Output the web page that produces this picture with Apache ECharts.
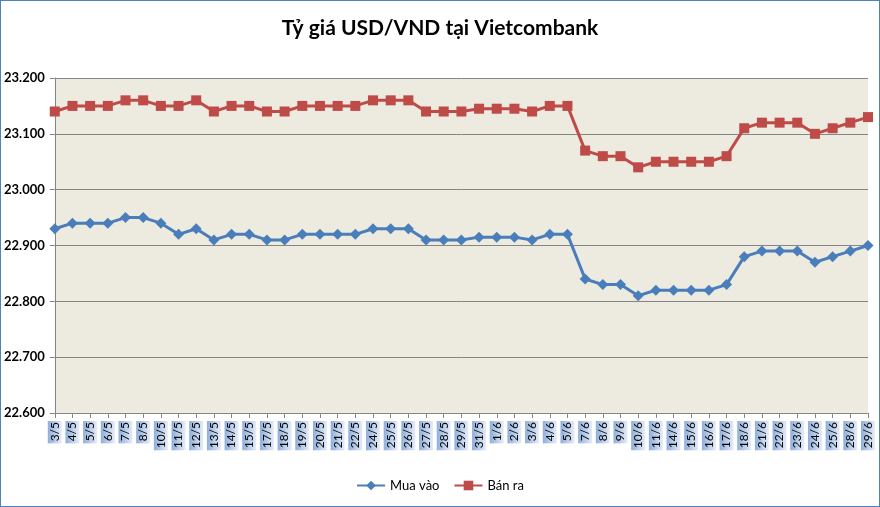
<!DOCTYPE html>
<html>
<head>
<meta charset="utf-8">
<script src="https://cdn.jsdelivr.net/npm/echarts@6/dist/echarts.min.js"></script>
<style>
html,body{margin:0;padding:0;background:#fff;}
#wrap{position:absolute;left:0;top:0;width:878px;height:505px;border:1px solid #4F81BD;}
#chart{width:878px;height:505px;}
</style>
</head>
<body>
<div id="wrap"><div id="chart"></div></div>
<script>
const categories = ["3/5","4/5","5/5","6/5","7/5","8/5","10/5","11/5","12/5","13/5","14/5","15/5","17/5","18/5","19/5","20/5","21/5","22/5","24/5","25/5","26/5","27/5","28/5","29/5","31/5","1/6","2/6","3/6","4/6","5/6","7/6","8/6","9/6","10/6","11/6","14/6","15/6","16/6","17/6","18/6","21/6","22/6","23/6","24/6","25/6","28/6","29/6"];
const muaVao = [22930,22940,22940,22940,22950,22950,22940,22920,22930,22910,22920,22920,22910,22910,22920,22920,22920,22920,22930,22930,22930,22910,22910,22910,22915,22915,22915,22910,22920,22920,22840,22830,22830,22810,22820,22820,22820,22820,22830,22880,22890,22890,22890,22870,22880,22890,22900];
const banRa = [23140,23150,23150,23150,23160,23160,23150,23150,23160,23140,23150,23150,23140,23140,23150,23150,23150,23150,23160,23160,23160,23140,23140,23140,23145,23145,23145,23140,23150,23150,23070,23060,23060,23040,23050,23050,23050,23050,23060,23110,23120,23120,23120,23100,23110,23120,23130];
const yTicks = {min: 22600, max: 23200, interval: 100};
const seriesNames = ["Mua vào", "Bán ra"];

const FONT = "Lato, 'Open Sans', sans-serif";
const chart = echarts.init(document.getElementById('chart'));
const fmt = v => String(v).replace(/\B(?=(\d{3})+(?!\d))/g, '.');
chart.setOption({
  animation: false,
  backgroundColor: '#ffffff',
  title: {
    text: 'Tỷ giá USD/VND tại Vietcombank',
    left: 'center', top: 12,
    textStyle: {fontFamily: FONT, fontSize: 21, fontWeight: 'bold', color: '#000'}
  },
  legend: {
    bottom: 9, left: 'center',
    itemWidth: 28, itemHeight: 12, itemGap: 14,
    textStyle: {fontFamily: FONT, fontSize: 13, color: '#000'},
    data: seriesNames
  },
  grid: {left: 50, right: 11, top: 77, bottom: 93, show: true, backgroundColor: '#EDEAE0', borderWidth: 0},
  xAxis: {
    type: 'category', data: categories, boundaryGap: false,
    axisLine: {lineStyle: {color: '#868686', width: 1}},
    axisTick: {show: true, interval: 0, length: 5, lineStyle: {color: '#868686'}},
    axisLabel: {
      interval: 0, rotate: 90, margin: 8,
      fontFamily: FONT, fontSize: 12, color: '#000',
      padding: [1, 1, 1, 2],
      backgroundColor: new echarts.graphic.LinearGradient(0, 0, 0, 1, [
        {offset: 0, color: '#8EAEDB'},
        {offset: 1, color: '#E6EDF8'}
      ])
    }
  },
  yAxis: {
    type: 'value', min: yTicks.min, max: yTicks.max, interval: yTicks.interval,
    axisLine: {show: true, lineStyle: {color: '#868686'}},
    axisTick: {show: true, length: 5, lineStyle: {color: '#868686'}},
    splitLine: {lineStyle: {color: '#868686', width: 1}},
    axisLabel: {
      margin: 10, fontFamily: FONT, fontSize: 13, fontWeight: 'bold', color: '#000',
      formatter: fmt
    }
  },
  series: [
    {
      name: seriesNames[0], type: 'line', data: muaVao,
      symbol: 'diamond', symbolSize: 11,
      lineStyle: {color: '#4A7EBB', width: 3},
      itemStyle: {color: '#4A7EBB'}
    },
    {
      name: seriesNames[1], type: 'line', data: banRa,
      symbol: 'rect', symbolSize: 10,
      lineStyle: {color: '#BE4B48', width: 3},
      itemStyle: {color: '#BE4B48'}
    }
  ]
});
</script>
</body>
</html>
